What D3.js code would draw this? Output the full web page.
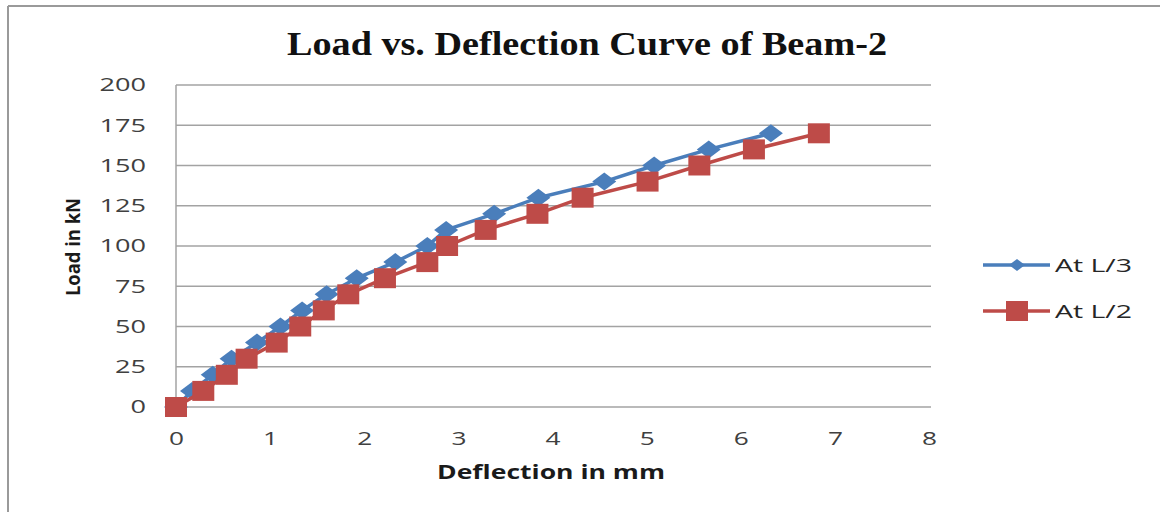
<!DOCTYPE html>
<meta charset="utf-8">
<script src="https://d3js.org/d3.v7.min.js"></script>
<style>
  body { margin: 0; background: #fff; }
  text { font-family: "Open Sans", sans-serif; }
</style>
<div id="chart"></div>
<script>
// load steps (kN), same for both gauges
var loads = [0, 10, 20, 30, 40, 50, 60, 70, 80, 90, 100, 110, 120, 130, 140, 150, 160, 170];
// deflection (mm)
var deflL3 = [0, 0.17, 0.39, 0.59, 0.86, 1.11, 1.34, 1.60, 1.92, 2.33, 2.67, 2.87, 3.38, 3.85, 4.55, 5.08, 5.66, 6.32];
var deflL2 = [0, 0.29, 0.54, 0.75, 1.07, 1.32, 1.57, 1.83, 2.22, 2.67, 2.88, 3.29, 3.84, 4.32, 5.01, 5.56, 6.14, 6.83];
var seriesNames = ["At L/3", "At L/2"];
var yTicks = [0, 25, 50, 75, 100, 125, 150, 175, 200];
var xTicks = [0, 1, 2, 3, 4, 5, 6, 7, 8];

var W = 1160, H = 512;
var colors = ["#4a7ebb", "#be4b48"];

var svg = d3.select("#chart").append("svg")
  .attr("width", W).attr("height", H);

// outer frame (only top and left visible)
svg.append("line").attr("x1", 8).attr("y1", 6).attr("x2", W).attr("y2", 6)
  .attr("stroke", "#9a9a9a").attr("stroke-width", 2);
svg.append("line").attr("x1", 8).attr("y1", 6).attr("x2", 8).attr("y2", H)
  .attr("stroke", "#9a9a9a").attr("stroke-width", 2);

var x = d3.scaleLinear().domain([0, 8]).range([176, 929]);
var y = d3.scaleLinear().domain([0, 200]).range([407, 85]);

// gridlines
svg.append("g").selectAll("line")
  .data(yTicks)
  .enter().append("line")
    .attr("x1", x(0)).attr("x2", x(8) + 2)
    .attr("y1", function(d) { return y(d); })
    .attr("y2", function(d) { return y(d); })
    .attr("stroke", "#a3a3a3").attr("stroke-width", 1.5);

// y axis line
svg.append("line")
  .attr("x1", x(0)).attr("x2", x(0)).attr("y1", y(200)).attr("y2", y(0))
  .attr("stroke", "#a3a3a3").attr("stroke-width", 1.5);

// Y axis labels
var gy = svg.append("g")
  .attr("transform", "translate(" + x(0) + ",0)")
  .call(d3.axisLeft(y).tickValues(yTicks).tickSize(0).tickPadding(30));
gy.select(".domain").remove();
gy.selectAll("text")
  .attr("fill", "#404040")
  .style("font-size", "18.5px")
  .attr("textLength", function(d) { return String(d).length * 15.5; })
  .attr("lengthAdjust", "spacingAndGlyphs");

// X axis labels
var gx = svg.append("g")
  .attr("transform", "translate(0," + y(0) + ")")
  .call(d3.axisBottom(x).tickValues(xTicks).tickSize(0).tickPadding(0));
gx.select(".domain").remove();
gx.selectAll("text")
  .attr("y", 38).attr("dy", null)
  .attr("fill", "#404040")
  .style("font-size", "18.5px")
  .attr("textLength", 15)
  .attr("lengthAdjust", "spacingAndGlyphs");

// title
svg.append("text")
  .attr("x", 587).attr("y", 55)
  .attr("text-anchor", "middle")
  .style("font-family", "'Liberation Serif', 'Times New Roman', serif")
  .style("font-weight", "bold")
  .style("font-size", "34px")
  .attr("textLength", 600)
  .attr("lengthAdjust", "spacingAndGlyphs")
  .attr("fill", "#111")
  .text("Load vs. Deflection Curve of Beam-2");

// axis titles
svg.append("text")
  .attr("x", 551).attr("y", 479)
  .attr("text-anchor", "middle")
  .style("font-weight", "bold")
  .style("font-size", "19px")
  .attr("textLength", 228)
  .attr("lengthAdjust", "spacingAndGlyphs")
  .attr("fill", "#1a1a1a")
  .text("Deflection in mm");

svg.append("text")
  .attr("transform", "translate(80,247) rotate(-90)")
  .attr("text-anchor", "middle")
  .style("font-weight", "bold")
  .style("font-size", "19px")
  .attr("textLength", 98)
  .attr("lengthAdjust", "spacingAndGlyphs")
  .attr("fill", "#1a1a1a")
  .text("Load in kN");

// series
var series = [deflL3, deflL2].map(function(defl, i) {
  return {
    name: seriesNames[i],
    color: colors[i],
    points: defl.map(function(dx, j) { return {d: dx, p: loads[j]}; })
  };
});

var line = d3.line()
  .x(function(d) { return x(d.d); })
  .y(function(d) { return y(d.p); });

var diamond = "M0,-9L12,0L0,9L-12,0Z";
var square = "M-11,-10L11,-10L11,10L-11,10Z";
var shapes = [diamond, square];
var legendShapes = ["M0,-6L8,0L0,6L-8,0Z", square];

series.forEach(function(s, i) {
  svg.append("path")
    .datum(s.points)
    .attr("fill", "none")
    .attr("stroke", s.color)
    .attr("stroke-width", 3.5)
    .attr("stroke-linejoin", "round")
    .attr("d", line);
  svg.append("g").selectAll("path")
    .data(s.points)
    .enter().append("path")
      .attr("transform", function(d) { return "translate(" + x(d.d) + "," + y(d.p) + ")"; })
      .attr("d", shapes[i])
      .attr("fill", s.color);
});

// legend
var legend = svg.append("g").selectAll("g")
  .data(series)
  .enter().append("g")
    .attr("transform", function(d, i) { return "translate(983," + (265 + i * 46) + ")"; });
legend.append("line")
  .attr("x1", 0).attr("x2", 67).attr("y1", 0).attr("y2", 0)
  .attr("stroke", function(d) { return d.color; })
  .attr("stroke-width", 3.5);
legend.append("path")
  .attr("transform", "translate(34,0)")
  .attr("d", function(d, i) { return legendShapes[i]; })
  .attr("fill", function(d) { return d.color; });
legend.append("text")
  .attr("x", 72).attr("y", 0).attr("dy", "0.35em")
  .style("font-size", "19px")
  .attr("textLength", 77)
  .attr("lengthAdjust", "spacingAndGlyphs")
  .attr("fill", "#262626")
  .text(function(d) { return d.name; });
</script>
